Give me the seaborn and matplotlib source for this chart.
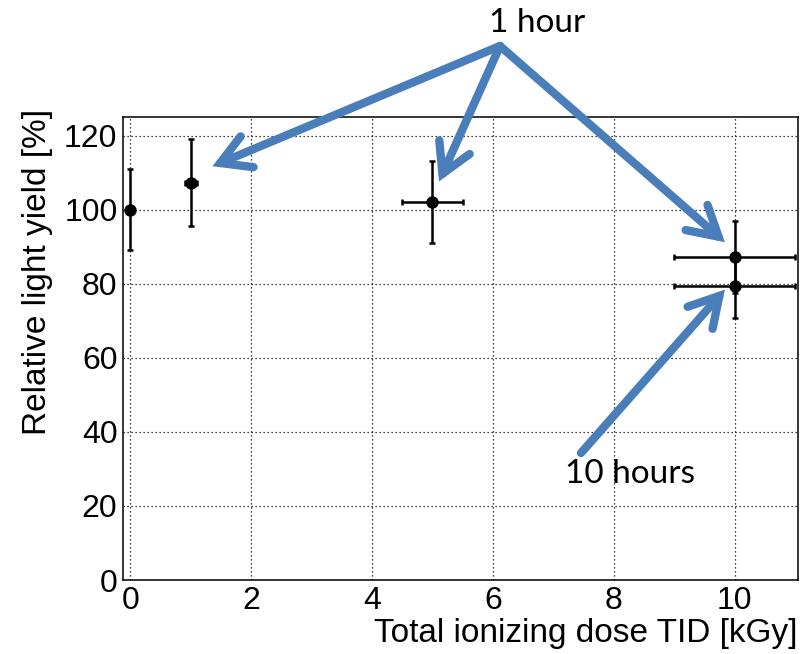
import matplotlib
matplotlib.use("Agg")
import matplotlib.pyplot as plt
import seaborn as sns
import pandas as pd
from matplotlib.ticker import MultipleLocator

# Measurements: relative light yield vs. total ionizing dose
dose = [0, 1, 5, 10, 10]
dose_err = [0, 0.1, 0.5, 1.0, 1.0]
light_yield = [100, 107.2, 102, 87.2, 79.5]
yield_err_lo = [11, 11.5, 11, 9.8, 8.8]
yield_err_hi = [11, 11.9, 11.1, 9.8, 8.8]

x_label = "Total ionizing dose TID [kGy]"
y_label = "Relative light yield [%]"
note_short = "1 hour"
note_long = "10 hours"
# arrow tips in data units
short_targets = [(1.36, 111.7), (5.11, 107.6), (9.84, 91.2)]
long_target = (9.84, 78.4)

df = pd.DataFrame({"dose": dose, "yield": light_yield})

sns.set_theme(style="white")
plt.rcParams["font.family"] = ["Liberation Sans", "DejaVu Sans"]

fig = plt.figure(figsize=(8.12, 6.54), dpi=100)
ax = fig.add_axes([123 / 812, 1 - 580 / 654, (798 - 123) / 812, (580 - 117) / 654])

ax.errorbar(dose, light_yield, xerr=dose_err, yerr=[yield_err_lo, yield_err_hi],
            fmt="none", ecolor="black", elinewidth=1.8, capsize=2.5, capthick=1.8, zorder=3)
sns.scatterplot(data=df, x="dose", y="yield", ax=ax, color="black", s=80,
                edgecolor="black", linewidth=0, zorder=4, legend=False)

ax.set_xlim(-0.12, 11.05)
ax.set_ylim(0, 125)
ax.xaxis.set_major_locator(MultipleLocator(2))
ax.xaxis.set_minor_locator(MultipleLocator(0.5))
ax.yaxis.set_major_locator(MultipleLocator(20))
ax.yaxis.set_minor_locator(MultipleLocator(4))

ax.grid(True, which="major", color="black", linestyle=(0, (1, 2.2)), linewidth=0.9)
ax.set_axisbelow(True)

ax.tick_params(axis="both", which="both", direction="in", colors="black",
               labelcolor="black", labelsize=23, top=False, right=False)
ax.tick_params(axis="y", which="major", length=15, width=1.0, pad=4)
ax.tick_params(axis="y", which="minor", length=7.5, width=1.0)
ax.tick_params(axis="x", which="major", length=11, width=1.0, pad=4)
ax.tick_params(axis="x", which="minor", length=6, width=1.0)
for sp in ax.spines.values():
    sp.set_color("black")
    sp.set_linewidth(1.1)

ax.set_xlabel(x_label, fontsize=24, loc="right", labelpad=2, color="black")
ax.set_ylabel(y_label, fontsize=24, loc="top", labelpad=8, color="black")
ax.yaxis.label.set_y(1.017)

blue = "#4a7ebb"
arrow_kw = dict(arrowstyle="->,head_length=1.05,head_width=0.6", color=blue, lw=6,
                shrinkA=0, shrinkB=0, mutation_scale=20, capstyle="round",
                joinstyle="miter")
base_short = (500 / 812, 1 - 46 / 654)
for tx, ty in short_targets:
    ax.annotate("", xy=(tx, ty), xycoords="data", xytext=base_short,
                textcoords="figure fraction", arrowprops=arrow_kw,
                annotation_clip=False)
ax.annotate("", xy=long_target, xycoords="data", xytext=(581 / 812, 1 - 453 / 654),
            textcoords="figure fraction", arrowprops=arrow_kw, annotation_clip=False)

fig.text(537 / 812, 1 - 23 / 654, note_short, family="Lato", fontsize=24,
         ha="center", va="center", color="black")
fig.text(630 / 812, 1 - 474 / 654, note_long, family="Lato", fontsize=24,
         ha="center", va="center", color="black")

fig.savefig("out.png", dpi=100)
